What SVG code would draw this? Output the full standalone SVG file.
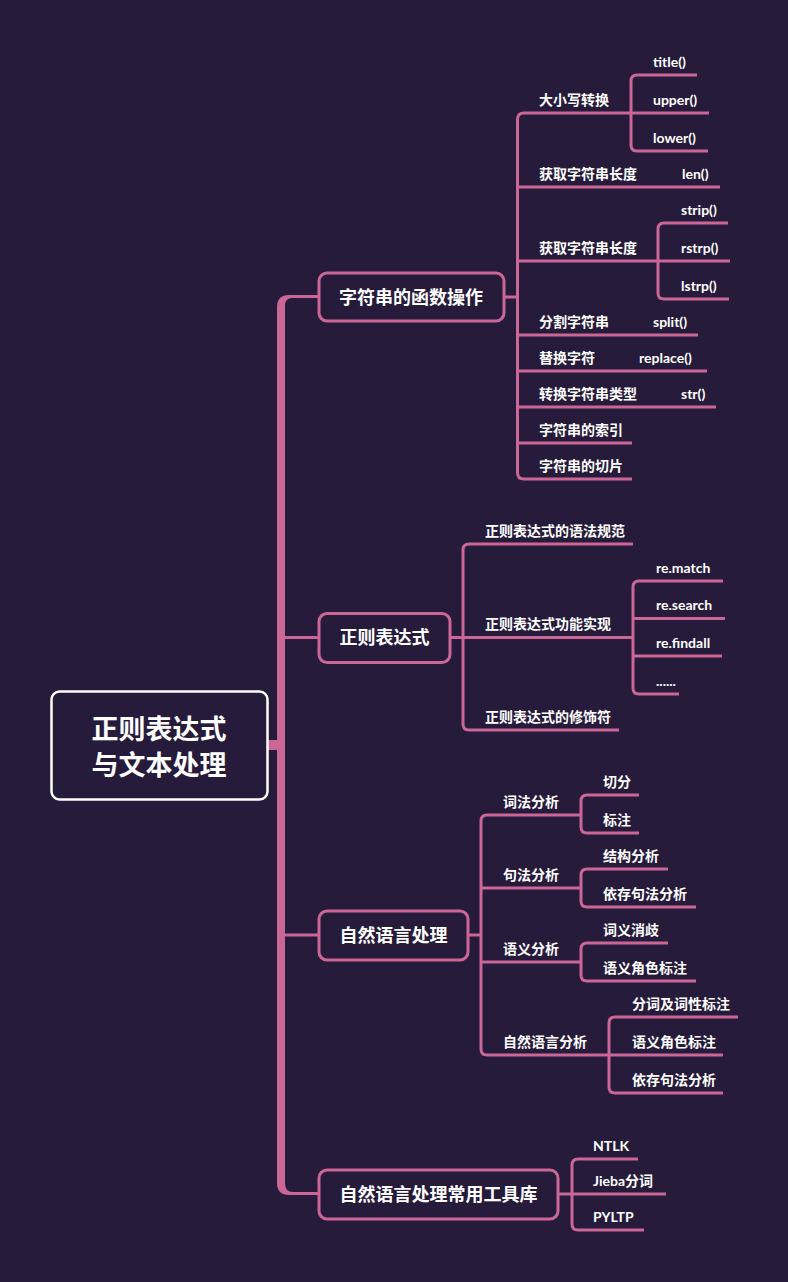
<svg xmlns="http://www.w3.org/2000/svg" width="788" height="1282" viewBox="0 0 788 1282">
<style>
.c{fill:none;stroke:#cb6797;stroke-width:3}
.n{fill:#261b3a;stroke:#cb6797;stroke-width:3}
.t{font-family:"Lato","Noto Sans CJK SC","Noto Sans",sans-serif;font-weight:bold;fill:#ffffff}
.l1{font-size:18px;text-anchor:middle}
.l2{font-size:14px}
.r{font-size:27px;text-anchor:middle}
</style>
<rect x="0" y="0" width="788" height="1282" fill="#261b3a"/>
<g id="connectors">
<path d="M277 307 Q277 295 289 295 H319 V298 H292 Q285 298 285 306 V1183 Q285 1192 293 1192 H319 V1195 H289 Q277 1195 277 1183 Z" fill="#cb6797"/>
<rect x="267" y="740" width="12" height="10" fill="#cb6797"/>
<path class="c" d="M284 637.5 H319"/>
<path class="c" d="M284 935 H319"/>
<path class="c" d="M504 297 H517.5"/>
<path class="c" d="M631 113 H524 Q517.5 113 517.5 119.5 V472.5 Q517.5 479 524 479 H632"/>
<path class="c" d="M517.5 187 H720 M517.5 261 H658 M517.5 335 H698 M517.5 371 H707 M517.5 407 H716 M517.5 443 H632"/>
<path class="c" d="M697 75 H637 Q631 75 631 81 V145 Q631 151 637 151 H708 M631 113 H709"/>
<path class="c" d="M728 223 H664 Q658 223 658 229 V293 Q658 299 664 299 H729 M658 261 H730"/>
<path class="c" d="M450 637.5 H463"/>
<path class="c" d="M633 544 H469 Q463 544 463 550 V724 Q463 730 469 730 H619 M463 637.5 H633"/>
<path class="c" d="M723 581 H639 Q633 581 633 587 V688 Q633 694 639 694 H679 M633 618.5 H725 M633 656 H722"/>
<path class="c" d="M468 935 H481"/>
<path class="c" d="M581 815 H487 Q481 815 481 821 V1049 Q481 1055 487 1055 H609 M481 888 H581 M481 962 H581"/>
<path class="c" d="M639 795 H587 Q581 795 581 801 V827 Q581 833 587 833 H639"/>
<path class="c" d="M668 869 H587 Q581 869 581 875 V901 Q581 907 587 907 H696"/>
<path class="c" d="M668 943 H587 Q581 943 581 949 V975 Q581 981 587 981 H696"/>
<path class="c" d="M738 1017 H615 Q609 1017 609 1023 V1087 Q609 1093 615 1093 H723 M609 1055 H723"/>
<path class="c" d="M558 1194 H572"/>
<path class="c" d="M638 1159 H578 Q572 1159 572 1165 V1224 Q572 1230 578 1230 H644 M572 1194 H666"/>
</g>
<g id="root">
<rect x="51.5" y="691.5" width="216" height="108" rx="8" fill="#261b3a" stroke="#ffffff" stroke-width="2.5"/>
<text class="t r" x="159" y="739">正则表达式</text>
<text class="t r" x="159" y="775">与文本处理</text>
</g>
<g id="n1">
<rect class="n" x="319" y="273" width="185" height="48" rx="8"/>
<text class="t l1" x="411" y="303.5">字符串的函数操作</text>
</g>
<g id="n2">
<rect class="n" x="319" y="613.5" width="131" height="49" rx="8"/>
<text class="t l1" x="384.5" y="644">正则表达式</text>
</g>
<g id="n3">
<rect class="n" x="319" y="911" width="149" height="49" rx="8"/>
<text class="t l1" x="393.5" y="941.5">自然语言处理</text>
</g>
<g id="n4">
<rect class="n" x="319" y="1170" width="239" height="49" rx="8"/>
<text class="t l1" x="438.5" y="1200.5">自然语言处理常用工具库</text>
</g>
<g id="n1-children">
<text class="t l2" x="539" y="104.5">大小写转换</text>
<text class="t l2" x="653" y="66.5">title()</text>
<text class="t l2" x="653" y="104.5">upper()</text>
<text class="t l2" x="653" y="142.5">lower()</text>
<text class="t l2" x="539" y="178.5">获取字符串长度</text>
<text class="t l2" x="682" y="178.5">len()</text>
<text class="t l2" x="539" y="252.5">获取字符串长度</text>
<text class="t l2" x="681" y="214.5">strip()</text>
<text class="t l2" x="681" y="252.5">rstrp()</text>
<text class="t l2" x="681" y="290.5">lstrp()</text>
<text class="t l2" x="539" y="326.5">分割字符串</text>
<text class="t l2" x="653" y="326.5">split()</text>
<text class="t l2" x="539" y="362.5">替换字符</text>
<text class="t l2" x="639" y="362.5">replace()</text>
<text class="t l2" x="539" y="398.5">转换字符串类型</text>
<text class="t l2" x="681" y="398.5">str()</text>
<text class="t l2" x="539" y="434.5">字符串的索引</text>
<text class="t l2" x="539" y="470.5">字符串的切片</text>
</g>
<g id="n2-children">
<text class="t l2" x="485" y="535.5">正则表达式的语法规范</text>
<text class="t l2" x="485" y="628.5">正则表达式功能实现</text>
<text class="t l2" x="485" y="721.5">正则表达式的修饰符</text>
<text class="t l2" x="656" y="572.5">re.match</text>
<text class="t l2" x="656" y="610">re.search</text>
<text class="t l2" x="656" y="647.5">re.findall</text>
<text class="t l2" x="656" y="686">......</text>
</g>
<g id="n3-children">
<text class="t l2" x="503" y="806.5">词法分析</text>
<text class="t l2" x="603" y="786.5">切分</text>
<text class="t l2" x="603" y="824.5">标注</text>
<text class="t l2" x="503" y="879.5">句法分析</text>
<text class="t l2" x="603" y="860.5">结构分析</text>
<text class="t l2" x="603" y="898.5">依存句法分析</text>
<text class="t l2" x="503" y="953.5">语义分析</text>
<text class="t l2" x="603" y="934.5">词义消歧</text>
<text class="t l2" x="603" y="972.5">语义角色标注</text>
<text class="t l2" x="503" y="1046.5">自然语言分析</text>
<text class="t l2" x="632" y="1008.5">分词及词性标注</text>
<text class="t l2" x="632" y="1046.5">语义角色标注</text>
<text class="t l2" x="632" y="1084.5">依存句法分析</text>
</g>
<g id="n4-children">
<text class="t l2" x="593" y="1150.5">NTLK</text>
<text class="t l2" x="593" y="1185.5">Jieba分词</text>
<text class="t l2" x="593" y="1221.5">PYLTP</text>
</g>
</svg>
